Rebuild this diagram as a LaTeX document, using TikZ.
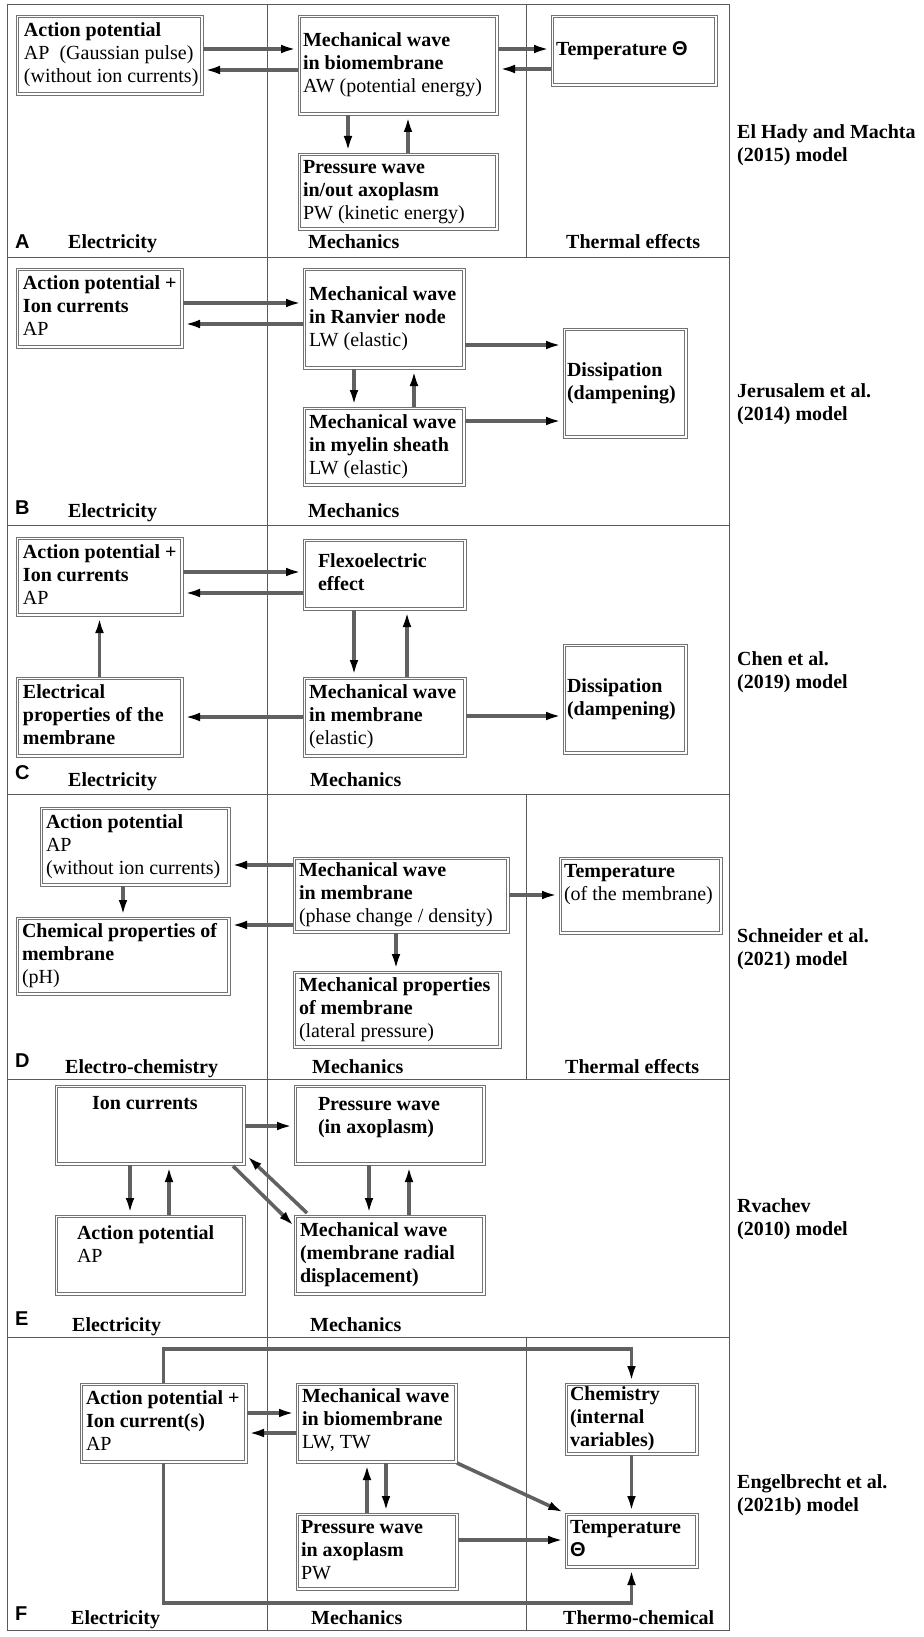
\documentclass[tikz,border=0pt]{standalone}
\usepackage{fontspec}
\setmainfont{Liberation Serif}
\newfontfamily\sansf{Liberation Sans}
\usetikzlibrary{arrows.meta,calc}
\newcommand\zs{\strut}
\newcommand\bt[6]{\begin{minipage}[c][#2pt][#3]{#1pt}\raggedright\leftskip=#4pt\relax\vspace*{#5pt}#6\par\end{minipage}}
\newcommand\thet{{\sansf\bfseries Θ}}
\begin{document}
\begin{tikzpicture}[x=1pt,y=-1pt,
  every node/.style={font=\fontsize{20}{23}\selectfont},
  box/.style={draw=black!55,line width=0.8pt,inner sep=0pt,outer sep=0pt,anchor=north west},
  inbox/.style={draw=black!55,line width=0.8pt},
  arr/.style={draw=black!62,line width=3.6pt,-{Latex[length=17pt,width=8.5pt,color=black]}},
  frame/.style={draw=black!65,line width=1pt},
  lett/.style={anchor=base west,font=\fontsize{20}{23}\selectfont\sansf\bfseries,inner sep=0pt},
  head/.style={anchor=base west,font=\fontsize{20}{23}\selectfont\bfseries,inner sep=0pt},
  side/.style={anchor=west,align=left,font=\fontsize{20}{23}\selectfont\bfseries,inner sep=0pt}]
\useasboundingbox (0,0) rectangle (923,1637);
% frame
\draw[frame] (7,5) rectangle (729,1630);
\foreach \y in {258,525,794,1079,1337} \draw[frame] (7,\y) -- (729,\y);
\draw[frame] (267,5) -- (267,1630);
\draw[frame] (526,5) -- (526,258) (526,794) -- (526,1079) (526,1337) -- (526,1630);

% ---------- A
\node[box] (apA) at (16,15) {\bt{187}{80}{c}{8}{0}{\zs\textbf{Action potential}\\\zs AP\enspace(Gaussian pulse)\\\zs(without ion currents)}};
\node[box] (mwA) at (298,15) {\bt{200}{100}{c}{5}{0}{\zs\textbf{Mechanical wave}\\\zs\textbf{in biomembrane}\\\zs AW (potential energy)}};
\node[box] (tA) at (551,15) {\bt{166}{71}{c}{5}{0}{\zs\textbf{Temperature \thet}}};
\node[box] (pwA) at (298,153) {\bt{200}{77}{c}{5}{0}{\zs\textbf{Pressure wave}\\\zs\textbf{in/out axoplasm}\\\zs PW (kinetic energy)}};
\draw[arr] (apA.east |- 0,49) -- (mwA.west |- 0,49);
\draw[arr] (mwA.west |- 0,70) -- (apA.east |- 0,70);
\draw[arr] (mwA.east |- 0,49) -- (tA.west |- 0,49);
\draw[arr] (tA.west |- 0,69) -- (mwA.east |- 0,69);
\draw[arr] (mwA.south -| 348,0) -- (pwA.north -| 348,0);
\draw[arr] (pwA.north -| 408,0) -- (mwA.south -| 408,0);
\node[lett] (lA) at (15,249) {A};
\node[head] (eA) at (68,249) {Electricity};
\node[head] (mA) at (308,249) {Mechanics};
\node[head] (thA) at (566,249) {Thermal effects};
\node[side] (sA) at (737,145) {El Hady and Machta\\(2015) model};

% ---------- B
\node[box] (apB) at (16,268) {\bt{167}{80}{c}{7}{0}{\zs\textbf{Action potential +}\\\zs\textbf{Ion currents}\\\zs AP}};
\node[box] (rB) at (303,268) {\bt{162}{101}{c}{6}{0}{\zs\textbf{Mechanical wave}\\\zs\textbf{in Ranvier node}\\\zs LW (elastic)}};
\node[box] (myB) at (303,407) {\bt{162}{79}{c}{6}{0}{\zs\textbf{Mechanical wave}\\\zs\textbf{in myelin sheath}\\\zs LW (elastic)}};
\node[box] (dB) at (563,328) {\bt{124}{110}{c}{4}{0}{\zs\textbf{Dissipation}\\\zs\textbf{(dampening)}}};
\draw[arr] (apB.east |- 0,303) -- (rB.west |- 0,303);
\draw[arr] (rB.west |- 0,324) -- (apB.east |- 0,324);
\draw[arr] (rB.south -| 354,0) -- (myB.north -| 354,0);
\draw[arr] (myB.north -| 414,0) -- (rB.south -| 414,0);
\draw[arr] (rB.east |- 0,345) -- (dB.west |- 0,345);
\draw[arr] (myB.east |- 0,421) -- (dB.west |- 0,421);
\node[lett] (lB) at (15,514) {B};
\node[head] (eB) at (68,517) {Electricity};
\node[head] (mB) at (308,517) {Mechanics};
\node[side] (sB) at (737,404.5) {Jerusalem et al.\\(2014) model};

% ---------- C
\node[box] (apC) at (16,537) {\bt{167}{79}{c}{7}{0}{\zs\textbf{Action potential +}\\\zs\textbf{Ion currents}\\\zs AP}};
\node[box] (fC) at (303,539) {\bt{163}{71}{c}{15}{0}{\zs\textbf{Flexoelectric}\\\zs\textbf{effect}}};
\node[box] (eC) at (16,677) {\bt{167}{80}{c}{7}{0}{\zs\textbf{Electrical}\\\zs\textbf{properties of the}\\\zs\textbf{membrane}}};
\node[box] (mC) at (303,677) {\bt{163}{80}{c}{6}{0}{\zs\textbf{Mechanical wave}\\\zs\textbf{in membrane}\\\zs(elastic)}};
\node[box] (dC) at (563,644) {\bt{124}{110}{c}{4}{0}{\zs\textbf{Dissipation}\\\zs\textbf{(dampening)}}};
\draw[arr] (apC.east |- 0,572) -- (fC.west |- 0,572);
\draw[arr] (fC.west |- 0,593) -- (apC.east |- 0,593);
\draw[arr] (fC.south -| 354,0) -- (mC.north -| 354,0);
\draw[arr] (mC.north -| 407,0) -- (fC.south -| 407,0);
\draw[arr] (eC.north) -- (apC.south);
\draw[arr] (mC.west |- 0,717) -- (eC.east |- 0,717);
\draw[arr] (mC.east |- 0,716) -- (dC.west |- 0,716);
\node[lett] (lC) at (15,779) {C};
\node[head] (eCh) at (68,786) {Electricity};
\node[head] (mCh) at (310,786) {Mechanics};
\node[side] (sC) at (737,672.5) {Chen et al.\\(2019) model};

% ---------- D
\node[box] (apD) at (40,807) {\bt{190}{79}{c}{6}{0}{\zs\textbf{Action potential}\\\zs AP\\\zs(without ion currents)}};
\node[box] (mD) at (293,857) {\bt{216}{76}{c}{6}{0}{\zs\textbf{Mechanical wave}\\\zs\textbf{in membrane}\\\zs(phase change / density)}};
\node[box] (cD) at (16,917) {\bt{214}{78}{c}{6}{0}{\zs\textbf{Chemical properties of}\\\zs\textbf{membrane}\\\zs(pH)}};
\node[box] (mpD) at (293,971) {\bt{208}{77}{c}{6}{0}{\zs\textbf{Mechanical properties}\\\zs\textbf{of membrane}\\\zs(lateral pressure)}};
\node[box] (tD) at (559,857) {\bt{163}{77}{t}{5}{4}{\zs\textbf{Temperature}\\\zs(of the membrane)}};
\draw[arr] (mD.west |- 0,865) -- (apD.east |- 0,865);
\draw[arr] (mD.west |- 0,925) -- (cD.east |- 0,925);
\draw[arr] (apD.south -| 123,0) -- (cD.north -| 123,0);
\draw[arr] (mD.south -| 396,0) -- (mpD.north -| 396,0);
\draw[arr] (mD.east |- 0,895) -- (tD.west |- 0,895);
\node[lett] (lD) at (15,1067) {D};
\node[head] (eD) at (65,1073) {Electro-chemistry};
\node[head] (mDh) at (312,1073) {Mechanics};
\node[head] (thD) at (565,1073) {Thermal effects};
\node[side] (sD) at (737,949) {Schneider et al.\\(2021) model};

% ---------- E
\node[box] (ionE) at (55,1085) {\bt{190}{80}{t}{37}{8}{\zs\textbf{Ion currents}}};
\node[box] (pwE) at (294,1085) {\bt{191}{80}{t}{24}{9}{\zs\textbf{Pressure wave}\\\zs\textbf{(in axoplasm)}}};
\node[box] (apE) at (55,1215) {\bt{190}{80}{t}{22}{8}{\zs\textbf{Action potential}\\\zs AP}};
\node[box] (mwE) at (294,1215) {\bt{191}{80}{c}{6}{0}{\zs\textbf{Mechanical wave}\\\zs\textbf{(membrane radial}\\\zs\textbf{displacement)}}};
\draw[arr] (ionE.south -| 130,0) -- (apE.north -| 130,0);
\draw[arr] (apE.north -| 169,0) -- (ionE.south -| 169,0);
\draw[arr] (ionE.east |- 0,1126) -- (pwE.west |- 0,1126);
\draw[arr] (pwE.south -| 369,0) -- (mwE.north -| 369,0);
\draw[arr] (mwE.north -| 409,0) -- (pwE.south -| 409,0);
\draw[arr] ($(ionE.south east)+(-12,1)$) -- ($(mwE.north west)+(1,12)$);
\draw[arr] ($(mwE.north west)+(13,-2)$) -- ($(ionE.south east)+(1,-10)$);
\node[lett] (lE) at (15,1325) {E};
\node[head] (eE) at (72,1331) {Electricity};
\node[head] (mE) at (310,1331) {Mechanics};
\node[side] (sE) at (737,1219.5) {Rvachev\\(2010) model};

% ---------- F
\node[box] (apF) at (80,1383) {\bt{167}{80}{c}{6}{0}{\zs\textbf{Action potential +}\\\zs\textbf{Ion current(s)}\\\zs AP}};
\node[box] (mwF) at (296,1383) {\bt{161}{80}{t}{6}{3}{\zs\textbf{Mechanical wave}\\\zs\textbf{in biomembrane}\\\zs LW, TW}};
\node[box] (pwF) at (296,1513) {\bt{162}{77}{c}{5}{0}{\zs\textbf{Pressure wave}\\\zs\textbf{in axoplasm}\\\zs PW}};
\node[box] (chF) at (565,1383) {\bt{133}{72}{c}{5}{0}{\zs\textbf{Chemistry}\\\zs\textbf{(internal}\\\zs\textbf{variables)}}};
\node[box] (tF) at (565,1513) {\bt{133}{55}{c}{5}{0}{\zs\textbf{Temperature}\\\zs\thet}};
\draw[arr] (apF.east |- 0,1413) -- (mwF.west |- 0,1413);
\draw[arr] (mwF.west |- 0,1433) -- (apF.east |- 0,1433);
\draw[arr] (pwF.north -| 367,0) -- (mwF.south -| 367,0);
\draw[arr] (mwF.south -| 386,0) -- (pwF.north -| 386,0);
\draw[arr] (mwF.south east) -- (tF.north west);
\draw[arr] (pwF.east |- 0,1540) -- (tF.west |- 0,1540);
\draw[arr] (chF.south) -- (tF.north);
\draw[arr] (apF.north) -- (apF.north |- 0,1349) -| (chF.north);
\draw[arr] (apF.south) -- (apF.south |- 0,1603) -| (tF.south);
\node[lett] (lF) at (15,1620) {F};
\node[head] (eF) at (71,1624) {Electricity};
\node[head] (mF) at (311,1624) {Mechanics};
\node[head] (thF) at (563,1624) {Thermo-chemical};
\node[side] (sF) at (737,1495) {Engelbrecht et al.\\(2021b) model};

% inner lines of the double box borders
\foreach \n in {apA,mwA,tA,pwA,apB,rB,myB,dB,apC,fC,eC,mC,dC,apD,mD,cD,mpD,tD,ionE,pwE,apE,mwE,apF,mwF,pwF,chF,tF}
  \draw[inbox] ($(\n.south west)+(2.2,-2.2)$) rectangle ($(\n.north east)+(-2.2,2.2)$);
\end{tikzpicture}
\end{document}
